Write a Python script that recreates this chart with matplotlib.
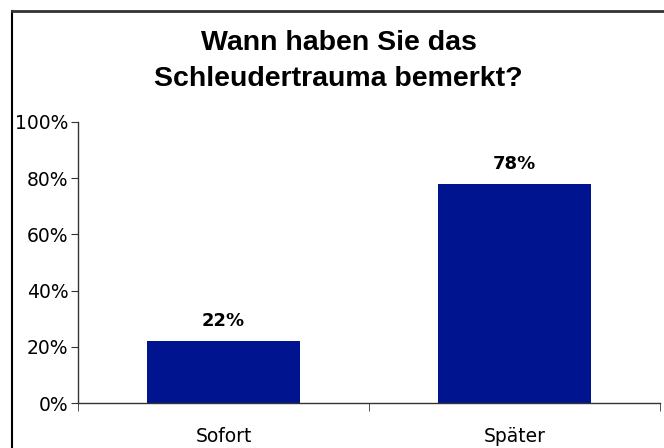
import matplotlib
matplotlib.use('Agg')
import matplotlib.pyplot as plt
from matplotlib.lines import Line2D

categories = ['Sofort', 'Später']
values = [22, 78]
value_labels = ['22%', '78%']
yticks = [0, 20, 40, 60, 80, 100]
ytick_labels = ['0%', '20%', '40%', '60%', '80%', '100%']
title = 'Wann haben Sie das\nSchleudertrauma bemerkt?'

bar_color = '#00148f'
axis_color = '#333333'

fig = plt.figure(figsize=(6.64, 4.48), dpi=100)
ax = fig.add_axes([0.1175, 0.1004, 0.8765, 0.6273])

x = range(len(categories))
ax.bar(x, values, width=0.526, color=bar_color, zorder=2)

for xi, v, lab in zip(x, values, value_labels):
    ax.annotate(lab, (xi, v), xytext=(0, 8), textcoords='offset points',
                ha='center', va='bottom', fontsize=13, fontweight='bold',
                family='DejaVu Sans')

ax.set_xlim(-0.5, len(categories) - 0.5)
ax.set_ylim(0, 100)
ax.set_yticks(yticks)
ax.set_yticklabels(ytick_labels)
ax.set_xticks(list(x))
ax.set_xticklabels(categories)
ax.set_xticks([i - 0.5 for i in range(len(categories) + 1)], minor=True)
ax.tick_params(axis='x', which='major', length=0, pad=17, labelsize=13.5)
ax.tick_params(axis='x', which='minor', length=6, direction='out', color=axis_color)
ax.tick_params(axis='y', length=5, direction='out', color=axis_color, labelsize=13.5, pad=2)

for s in ['top', 'right']:
    ax.spines[s].set_visible(False)
for s in ['left', 'bottom']:
    ax.spines[s].set_color(axis_color)
    ax.spines[s].set_linewidth(1)

fig.text(0.51, 0.863, title, ha='center', va='center', fontsize=20.5,
         fontweight='bold', family='Liberation Sans', linespacing=1.5)

# outer frame (only top and left edges visible in the reference)
fig.add_artist(Line2D([12 / 664, 12 / 664], [0, 1 - 11 / 448], color='black', lw=1.5))
fig.add_artist(Line2D([12 / 664, 1], [1 - 11 / 448, 1 - 11 / 448], color='#333333', lw=2))

fig.savefig('out.png', dpi=100)
